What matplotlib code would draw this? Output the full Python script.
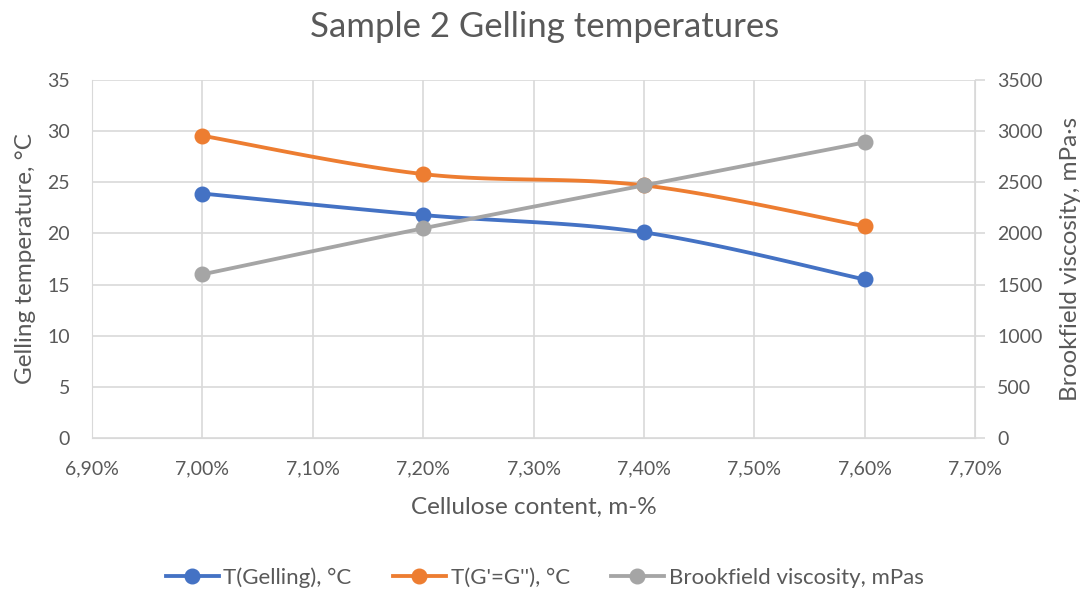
import numpy as np
import matplotlib.pyplot as plt
from matplotlib.lines import Line2D
from matplotlib.ticker import FuncFormatter, MultipleLocator

# cellulose content (m-%) and measured values
cellulose = [7.00, 7.20, 7.40, 7.60]
t_gelling = [23.9, 21.8, 20.1, 15.5]
t_crossover = [29.55, 25.8, 24.7, 20.7]
viscosity = [1600, 2050, 2470, 2890]

BLUE = '#4472C4'
ORANGE = '#ED7D31'
GREY = '#A5A5A5'
TEXT = '#595959'
GRID = '#D9D9D9'

plt.rcParams['font.family'] = ['Lato', 'DejaVu Sans']


def smooth(xs, ys, n=40):
    # excel-style smoothed line: cubic bezier segments with catmull-rom handles
    p = np.column_stack([xs, ys]).astype(float)
    out = []
    for i in range(len(p) - 1):
        p0 = p[i - 1] if i > 0 else p[i]
        p1 = p[i]
        p2 = p[i + 1]
        p3 = p[i + 2] if i + 2 < len(p) else p[i + 1]
        c1 = p1 + (p2 - p0) / 6
        c2 = p2 - (p3 - p1) / 6
        t = np.linspace(0, 1, n)[:, None]
        seg = ((1 - t) ** 3) * p1 + 3 * ((1 - t) ** 2) * t * c1 + 3 * (1 - t) * t ** 2 * c2 + t ** 3 * p2
        out.append(seg if i == 0 else seg[1:])
    out = np.vstack(out)
    return out[:, 0], out[:, 1]


LW = 2.75
MS = 10.5

fig = plt.figure(figsize=(10.89, 5.97), dpi=100)
ax = fig.add_axes([0.0845, 0.2663, 0.811, 0.5997])
ax2 = ax.twinx()

for ys, col in [(t_gelling, BLUE), (t_crossover, ORANGE)]:
    sx, sy = smooth(cellulose, ys)
    ax.plot(sx, sy, color=col, lw=LW, solid_capstyle='round', zorder=3)
    ax.plot(cellulose, ys, 'o', color=col, ms=MS, zorder=4)

sx, sy = smooth(cellulose, viscosity)
ax2.plot(sx, sy, color=GREY, lw=LW, solid_capstyle='round', zorder=3)
ax2.plot(cellulose, viscosity, 'o', color=GREY, ms=MS, zorder=4)

ax.set_xlim(6.9, 7.7)
ax.set_ylim(0, 35)
ax2.set_ylim(0, 3500)
ax.xaxis.set_major_locator(MultipleLocator(0.1))
ax.yaxis.set_major_locator(MultipleLocator(5))
ax2.yaxis.set_major_locator(MultipleLocator(500))
ax.xaxis.set_major_formatter(FuncFormatter(lambda v, p: f'{v:.2f}%'.replace('.', ',')))

ax.grid(True, color=GRID, lw=1.2)
ax.set_axisbelow(True)

for a in (ax, ax2):
    for s in a.spines.values():
        s.set_visible(False)
ax.spines['left'].set_visible(True)
ax.spines['left'].set_color(GRID)
ax.spines['bottom'].set_visible(True)
ax.spines['bottom'].set_color(GRID)
ax2.spines['right'].set_visible(True)
ax2.spines['right'].set_color(GRID)

ax.tick_params(axis='x', length=0, labelsize=14, labelcolor=TEXT, pad=16)
ax.tick_params(axis='y', length=0, labelsize=14, labelcolor=TEXT, pad=16)
ax2.tick_params(axis='y', length=7, width=1.2, color=GRID, labelsize=14, labelcolor=TEXT, pad=9)

ax.set_xlabel('Cellulose content, m-%', fontsize=17.5, color=TEXT, labelpad=14)
ax.set_ylabel('Gelling temperature, °C', fontsize=17.5, color=TEXT, labelpad=8)
ax2.set_ylabel('Brookfield viscosity, mPa·s', fontsize=17.5, color=TEXT, labelpad=12)

fig.suptitle('Sample 2 Gelling temperatures', fontsize=25, color=TEXT, y=0.982)

handles = [
    Line2D([], [], color=BLUE, lw=LW, marker='o', ms=MS),
    Line2D([], [], color=ORANGE, lw=LW, marker='o', ms=MS),
    Line2D([], [], color=GREY, lw=LW, marker='o', ms=MS),
]
labels = ['T(Gelling), °C', "T(G'=G''), °C", 'Brookfield viscosity, mPas']
fig.legend(handles, labels, loc='center', bbox_to_anchor=(0.5, 0.032), ncol=3, frameon=False,
           fontsize=16, labelcolor=TEXT, handlelength=2.4, handletextpad=0.2, columnspacing=1.85)

fig.savefig('out.png', dpi=100, facecolor='white')
